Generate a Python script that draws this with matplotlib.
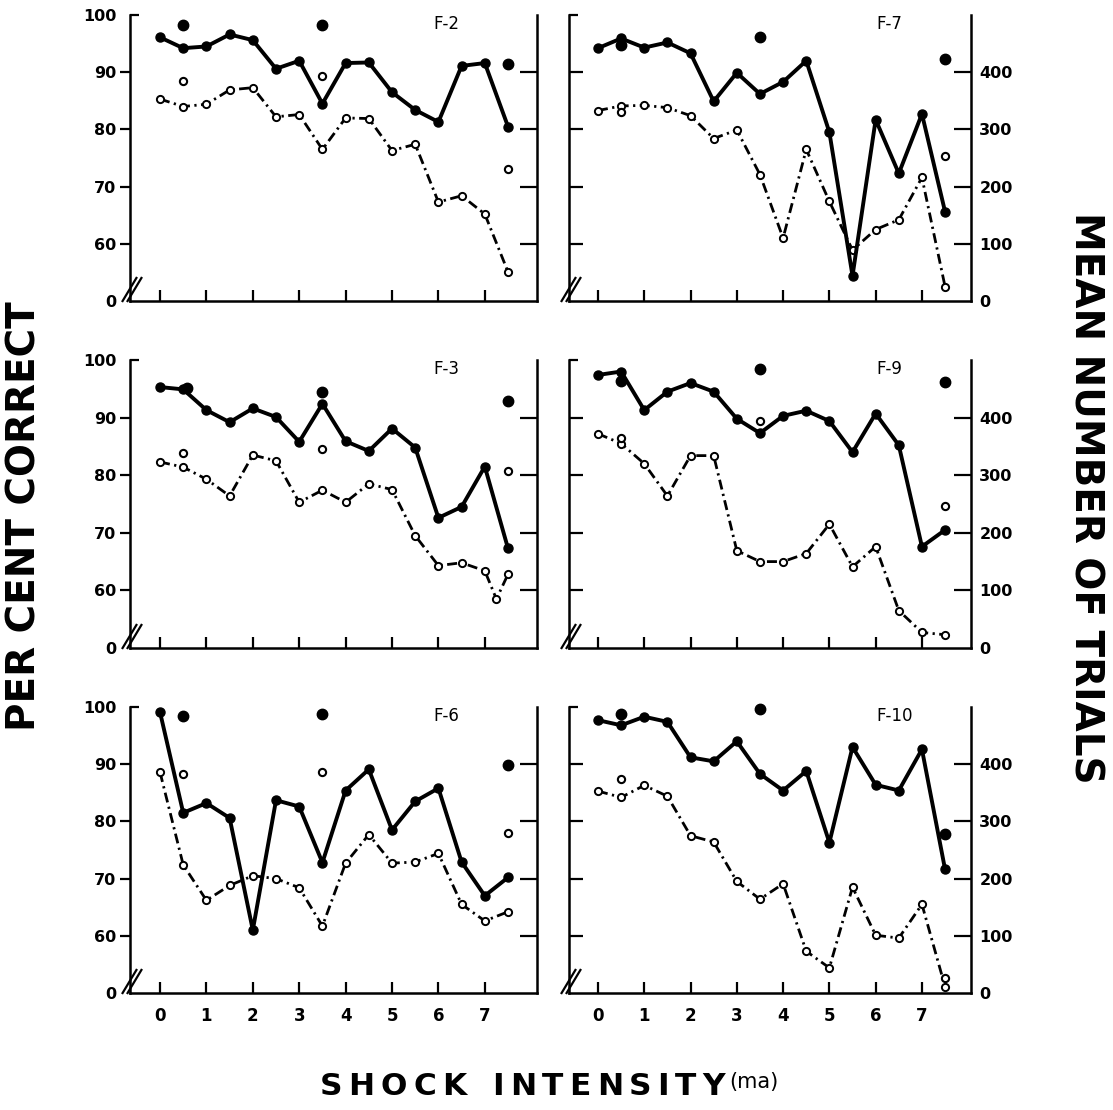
import matplotlib
matplotlib.use("Agg")
import matplotlib.pyplot as plt

plt.rcParams['font.family'] = ['DejaVu Sans']

# ---------------- data ----------------
shock_levels = [0, 0.5, 1, 1.5, 2, 2.5, 3, 3.5, 4, 4.5, 5, 5.5, 6, 6.5, 7, 7.5]
x_tick_values = [0, 1, 2, 3, 4, 5, 6, 7]
x_tick_labels = ['0', '1', '2', '3', '4', '5', '6', '7']
pct_ticks = [50, 60, 70, 80, 90, 100]
pct_tick_labels = ['0', '60', '70', '80', '90', '100']
trial_ticks = [0, 100, 200, 300, 400]
trial_tick_labels = ['0', '100', '200', '300', '400']

panel_names = ['F-2', 'F-7', 'F-3', 'F-9', 'F-6', 'F-10']

# per cent correct (solid line, filled dots)
pct_F2 = [96.1, 94.2, 94.5, 96.6, 95.6, 90.6, 92.0, 84.5, 91.6, 91.7, 86.5, 83.4, 81.3, 91.1, 91.6, 80.5]
pct_F7 = [94.2, 95.9, 94.3, 95.2, 93.3, 84.9, 89.9, 86.2, 88.3, 92.0, 79.5, 54.4, 81.7, 72.3, 82.7, 65.6]
pct_F3 = [95.3, 94.9, 91.3, 89.2, 91.6, 90.1, 85.8, 92.4, 85.9, 84.2, 88.1, 84.8, 72.6, 74.5, 81.5, 67.3]
pct_F9 = [97.4, 98.0, 91.3, 94.5, 96.0, 94.5, 89.8, 87.3, 90.3, 91.2, 89.4, 84.0, 90.7, 85.2, 67.6, 70.5]
pct_F6 = [99.1, 81.5, 83.2, 80.6, 61.0, 83.7, 82.6, 72.8, 85.4, 89.1, 78.5, 83.5, 85.8, 72.9, 67.0, 70.2]
pct_F10 = [97.7, 96.8, 98.3, 97.4, 91.2, 90.5, 94.0, 88.3, 85.4, 88.8, 76.3, 93.0, 86.4, 85.4, 92.6, 71.6]

# mean number of trials (dash-dot line, open circles)
trials_F2 = [353, 340, 344, 369, 373, 322, 326, 265, 320, 319, 263, 274, 173, 184, 152, 51]
trials_F7 = [333, 341, 342, 338, 324, 284, 299, 221, 110, 265, 174, 89, 125, 142, 216, 25]
trials_x_F3 = [0, 0.5, 1, 1.5, 2, 2.5, 3, 3.5, 4, 4.5, 5, 5.5, 6, 6.5, 7, 7.25, 7.5]
trials_F3 = [323, 314, 293, 264, 335, 325, 253, 274, 253, 285, 275, 195, 143, 148, 134, 85, 128]
trials_F9 = [372, 355, 320, 264, 334, 334, 169, 150, 150, 164, 215, 141, 176, 65, 27, 23]
trials_F6 = [386, 224, 162, 188, 205, 200, 184, 117, 227, 277, 227, 229, 244, 155, 126, 142]
trials_F10 = [353, 342, 363, 344, 275, 264, 195, 164, 191, 73, 44, 185, 101, 96, 155, 11]

# separate (unconnected) points
extra_pct_x_F2 = [0.5, 3.5, 7.5]
extra_pct_F2 = [98.3, 98.3, 91.4]
extra_trials_x_F2 = [0.5, 3.5, 7.5]
extra_trials_F2 = [384, 394, 230]

extra_pct_x_F7 = [0.5, 3.5, 7.5]
extra_pct_F7 = [94.7, 96.2, 92.3]
extra_trials_x_F7 = [0.5, 7.5]
extra_trials_F7 = [330, 253]

extra_pct_x_F3 = [0.58, 3.5, 7.5]
extra_pct_F3 = [95.1, 94.5, 92.8]
extra_trials_x_F3 = [0.5, 3.5, 7.5]
extra_trials_F3 = [339, 345, 307]

extra_pct_x_F9 = [0.5, 3.5, 7.5]
extra_pct_F9 = [96.4, 98.5, 96.1]
extra_trials_x_F9 = [0.5, 3.5, 7.5]
extra_trials_F9 = [365, 394, 246]

extra_pct_x_F6 = [0.5, 3.5, 7.5]
extra_pct_F6 = [98.5, 98.7, 89.8]
extra_trials_x_F6 = [0.5, 3.5, 7.5]
extra_trials_F6 = [382, 386, 279]

extra_pct_x_F10 = [0.5, 3.5, 7.5]
extra_pct_F10 = [98.7, 99.6, 77.8]
extra_trials_x_F10 = [0.5, 7.5]
extra_trials_F10 = [374, 26]

panels = {
    'F-2': (shock_levels, pct_F2, shock_levels, trials_F2, extra_pct_x_F2, extra_pct_F2, extra_trials_x_F2, extra_trials_F2),
    'F-7': (shock_levels, pct_F7, shock_levels, trials_F7, extra_pct_x_F7, extra_pct_F7, extra_trials_x_F7, extra_trials_F7),
    'F-3': (shock_levels, pct_F3, trials_x_F3, trials_F3, extra_pct_x_F3, extra_pct_F3, extra_trials_x_F3, extra_trials_F3),
    'F-9': (shock_levels, pct_F9, shock_levels, trials_F9, extra_pct_x_F9, extra_pct_F9, extra_trials_x_F9, extra_trials_F9),
    'F-6': (shock_levels, pct_F6, shock_levels, trials_F6, extra_pct_x_F6, extra_pct_F6, extra_trials_x_F6, extra_trials_F6),
    'F-10': (shock_levels, pct_F10, shock_levels, trials_F10, extra_pct_x_F10, extra_pct_F10, extra_trials_x_F10, extra_trials_F10),
}

# ---------------- layout ----------------
W, H = 1113, 1110
fig = plt.figure(figsize=(W / 100, H / 100), dpi=100)
fig.patch.set_facecolor('white')

cols = [(130, 407, -0.647, 8.125), (569, 402, -0.626, 8.06)]
rows = [(15, 301), (360, 648), (707, 993)]
LW_SPINE = 1.8

for i, name in enumerate(panel_names):
    r, c = divmod(i, 2)
    x0, w, xmin, xmax = cols[c]
    top, bot = rows[r]
    h = bot - top
    ax = fig.add_axes([x0 / W, 1 - bot / H, w / W, h / H])
    ax.set_xlim(xmin, xmax)
    ax.set_ylim(50, 100)
    ax2 = ax.twinx()
    ax2.set_ylim(0, 500)
    ax.set_facecolor('none')

    for s in ['top', 'right']:
        ax.spines[s].set_visible(False)
    for s in ['top', 'left', 'bottom']:
        ax2.spines[s].set_visible(False)
    ax.spines['left'].set_linewidth(LW_SPINE)
    ax.spines['bottom'].set_linewidth(LW_SPINE)
    ax2.spines['right'].set_linewidth(LW_SPINE)

    # x ticks
    ax.set_xticks(x_tick_values)
    ax.tick_params(axis='x', direction='in', length=8, width=1.6, pad=10)
    if r == 2:
        ax.set_xticklabels(x_tick_labels, fontsize=12, fontweight='bold')
    else:
        ax.set_xticklabels([])

    px_x = (xmax - xmin) / w
    px_y = 50.0 / h

    if c == 0:
        ax.set_yticks(pct_ticks)
        ax.set_yticklabels(pct_tick_labels, fontsize=11.5, fontweight='bold')
        ax.tick_params(axis='y', direction='out', length=7, width=1.6, pad=3)
        ax.yaxis.get_major_ticks()[0].tick1line.set_visible(False)
        ax.yaxis.get_major_ticks()[-1].tick1line.set_visible(False)
        ax2.set_yticks(trial_ticks[1:])
        ax2.set_yticklabels([])
        ax2.tick_params(axis='y', direction='in', length=12, width=1.6)
    else:
        ax.set_yticks(pct_ticks[1:-1])
        ax.set_yticklabels([])
        ax.tick_params(axis='y', direction='in', length=10, width=1.6)
        ax2.set_yticks(trial_ticks)
        ax2.set_yticklabels(trial_tick_labels, fontsize=11.5, fontweight='bold')
        ax2.tick_params(axis='y', direction='in', length=12, width=1.6, pad=6)
        ax2.yaxis.get_major_ticks()[0].tick2line.set_visible(False)

    # cap at the top of the left spine
    ax.plot([xmin, xmin + 9 * px_x], [100, 100], color='black', lw=1.6,
            clip_on=False, solid_capstyle='butt')
    # axis break marks
    for off in (0, 5):
        ax.plot([xmin + (off - 8) * px_x, xmin + (off + 7) * px_x],
                [50 - 1 * px_y, 50 + 24 * px_y], color='black', lw=1.6,
                clip_on=False, solid_capstyle='butt')

    xs, pct, xt, trials, epx, ep, etx, et = panels[name]
    ax2.plot(xt, trials, color='black', lw=2.0, linestyle=(0, (3.6, 1.6, 0.8, 1.6)),
             marker='o', ms=5.2, mfc='white', mec='black', mew=1.4, clip_on=False, zorder=3)
    ax2.plot(etx, et, linestyle='none', marker='o', ms=5.2, mfc='white', mec='black',
             mew=1.5, clip_on=False, zorder=3)
    ax2.plot(xs, [(p - 50) * 10 for p in pct], color='black', lw=2.8,
             marker='o', ms=6.5, mfc='black', mec='black', solid_joinstyle='round',
             clip_on=False, zorder=4)
    ax2.plot(epx, [(p - 50) * 10 for p in ep], linestyle='none', marker='o', ms=7.5,
             color='black', clip_on=False, zorder=4)

    ax.text(0.745 if c == 0 else 0.765, 1 - 9.0 / h, name, transform=ax.transAxes,
            ha='left', va='center', fontsize=12)

fig.text(25 / W, 1 - 516 / H, 'PER CENT CORRECT', rotation=90, ha='center',
         va='center', fontsize=28, fontweight='bold')
fig.text(1085 / W, 1 - 498 / H, 'MEAN NUMBER OF TRIALS', rotation=270, ha='center',
         va='center', fontsize=28, fontweight='bold')

# letter-spaced axis title at the bottom
renderer = fig.canvas.get_renderer()
x_cur = 320.0
base_y = 1095.0
title_main = 'SHOCK INTENSITY'
for ch in title_main:
    if ch == ' ':
        x_cur += 20
        continue
    t = fig.text(x_cur / W, 1 - base_y / H, ch, ha='left', va='baseline',
                 fontsize=22.5, fontweight='bold')
    bb = t.get_window_extent(renderer)
    x_cur += bb.width + 6.0
fig.text((x_cur - 2) / W, 1 - 1088 / H, '(ma)', ha='left', va='baseline', fontsize=15)

fig.savefig('out.png', dpi=100, facecolor='white')
